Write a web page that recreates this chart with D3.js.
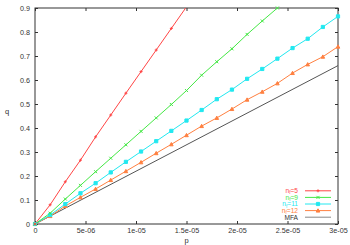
<!DOCTYPE html>
<html>
<head>
<meta charset="utf-8">
<script src="https://cdn.jsdelivr.net/npm/d3@7"></script>
<style>
  body { margin: 0; background: #fff; }
  text { font-family: "Liberation Sans", Arial, sans-serif; fill: #333; }
</style>
</head>
<body>
<svg id="chart"></svg>
<script>
// p step between markers
const pStep = 1.5e-6

// q values read at p = 0, 1.5e-6, 3e-6, ...
const qN5 = [0, 0.08, 0.176, 0.266, 0.363, 0.454, 0.545, 0.635, 0.725, 0.815, 0.905]
const qN9 = [0, 0.045, 0.104, 0.161, 0.218, 0.274, 0.33, 0.386, 0.442, 0.498, 0.556,
    0.62, 0.676, 0.73, 0.79, 0.846, 0.9, 0.957]
const qN11 = [0, 0.0375, 0.083, 0.128, 0.17, 0.215, 0.259, 0.302, 0.345, 0.388, 0.431,
    0.475, 0.52, 0.56, 0.605, 0.646, 0.689, 0.733, 0.772, 0.821, 0.865]
const qN12 = [0, 0.033, 0.075, 0.111, 0.146, 0.183, 0.22, 0.257, 0.295, 0.332, 0.37,
    0.408, 0.442, 0.479, 0.518, 0.551, 0.586, 0.629, 0.665, 0.697, 0.739]
const mfaP = [0, 3e-5]
const mfaQ = [0, 0.66]

const xTicks = [0, 5e-6, 1e-5, 1.5e-5, 2e-5, 2.5e-5, 3e-5]
const xTickLabels = ['0', '5e-06', '1e-05', '1.5e-05', '2e-05', '2.5e-05', '3e-05']
const yTicks = [0, 0.1, 0.2, 0.3, 0.4, 0.5, 0.6, 0.7, 0.8, 0.9]

const series = [
    {sub: '5', q: qN5, color: '#ff4545', marker: 'plus'},
    {sub: '9', q: qN9, color: '#45e845', marker: 'cross'},
    {sub: '11', q: qN11, color: '#22e8f0', marker: 'square'},
    {sub: '12', q: qN12, color: '#ff8040', marker: 'triangle'}
]

const width = 350, height = 245
const margin = {top: 8, right: 12, bottom: 21, left: 35}

const svg = d3.select('#chart')
    .attr('width', width)
    .attr('height', height)

const x = d3.scaleLinear().domain([0, 3e-5]).range([margin.left, width - margin.right])
const y = d3.scaleLinear().domain([0, 0.9]).range([height - margin.bottom, margin.top])

svg.append('clipPath').attr('id', 'clip')
    .append('rect')
    .attr('x', margin.left - 3).attr('y', margin.top - 3)
    .attr('width', x.range()[1] - margin.left + 6)
    .attr('height', y.range()[0] - margin.top + 6)

svg.append('clipPath').attr('id', 'clipLine')
    .append('rect')
    .attr('x', margin.left).attr('y', margin.top)
    .attr('width', x.range()[1] - margin.left)
    .attr('height', y.range()[0] - margin.top)

// axes with inward ticks, mirrored
const tickLen = 3
svg.append('g')
    .attr('transform', `translate(0,${y(0)})`)
    .call(d3.axisBottom(x).tickValues(xTicks).tickSizeInner(-tickLen).tickSizeOuter(0)
        .tickPadding(4).tickFormat((d, i) => xTickLabels[i]))
svg.append('g')
    .attr('transform', `translate(0,${y(0.9)})`)
    .call(d3.axisTop(x).tickValues(xTicks).tickSizeInner(-tickLen).tickSizeOuter(0).tickFormat(''))
svg.append('g')
    .attr('transform', `translate(${x(0)},0)`)
    .call(d3.axisLeft(y).tickValues(yTicks).tickSizeInner(-tickLen).tickSizeOuter(0)
        .tickPadding(5).tickFormat(d3.format('.1~f')))
svg.append('g')
    .attr('transform', `translate(${x(3e-5)},0)`)
    .call(d3.axisRight(y).tickValues(yTicks).tickSizeInner(-tickLen).tickSizeOuter(0).tickFormat(''))

svg.selectAll('.domain').remove()
svg.selectAll('.tick line').attr('stroke', '#333')
svg.selectAll('.tick text').attr('font-size', '7.2px').attr('fill', '#333')

svg.append('rect')
    .attr('x', x(0)).attr('y', y(0.9))
    .attr('width', x(3e-5) - x(0)).attr('height', y(0) - y(0.9))
    .attr('fill', 'none').attr('stroke', '#333').attr('stroke-width', 1)

// axis labels
svg.append('text').attr('x', 7).attr('y', 114).attr('font-size', '7.5px')
    .attr('text-anchor', 'middle').text('q')
svg.append('text').attr('x', (x(0) + x(3e-5)) / 2).attr('y', 243).attr('font-size', '7.5px')
    .attr('text-anchor', 'middle').text('p')

function markerPath(type, s) {
    if (type === 'plus') return `M${-s},0H${s}M0,${-s}V${s}`
    if (type === 'cross') return `M${-s},${-s}L${s},${s}M${-s},${s}L${s},${-s}`
    if (type === 'square') return `M${-s},${-s}H${s}V${s}H${-s}Z`
    return `M0,${-s - 0.3}L${s + 0.3},${s}H${-s - 0.3}Z`
}
const markerSize = m => m === 'square' ? 1.6 : 1.5

const lines = svg.append('g').attr('clip-path', 'url(#clipLine)')
const marks = svg.append('g').attr('clip-path', 'url(#clip)')
const line = d3.line().x(d => x(d[0])).y(d => y(d[1]))

lines.append('path')
    .datum(mfaP.map((p, i) => [p, mfaQ[i]]))
    .attr('d', line)
    .attr('fill', 'none').attr('stroke', '#555').attr('stroke-width', 1)

series.slice().reverse().forEach(s => {
    const pts = s.q.map((q, i) => [i * pStep, q])
    lines.append('path').datum(pts).attr('d', line)
        .attr('fill', 'none').attr('stroke', s.color).attr('stroke-width', 1)
    const filled = s.marker === 'square' || s.marker === 'triangle'
    marks.selectAll(null).data(pts.filter(d => d[1] <= 0.9)).join('path')
        .attr('transform', d => `translate(${x(d[0])},${y(d[1])})`)
        .attr('d', markerPath(s.marker, markerSize(s.marker)))
        .attr('fill', filled ? s.color : 'none')
        .attr('stroke', s.color).attr('stroke-width', 1)
})

// legend
const legend = svg.append('g')
const rowY = i => 190.8 + i * 6.6
const legendItems = series.concat([{label: 'MFA', color: '#888', marker: null}])
legendItems.forEach((s, i) => {
    const t = legend.append('text')
        .attr('x', 298).attr('y', rowY(i) + 2.3)
        .attr('text-anchor', 'end').attr('font-size', '6.6px')
        .style('fill', s.marker ? s.color : '#333')
    if (s.sub) {
        t.append('tspan').text('n')
        t.append('tspan').attr('font-size', '4.6px').attr('dy', 1.2).text('f')
        t.append('tspan').attr('dy', -1.2).text('=' + s.sub)
    } else {
        t.text(s.label)
    }
    legend.append('line')
        .attr('x1', 305).attr('x2', 331)
        .attr('y1', rowY(i)).attr('y2', rowY(i))
        .attr('stroke', s.color).attr('stroke-width', 1)
    if (s.marker) {
        legend.append('path')
            .attr('transform', `translate(318,${rowY(i)})`)
            .attr('d', markerPath(s.marker, markerSize(s.marker)))
            .attr('fill', (s.marker === 'square' || s.marker === 'triangle') ? s.color : 'none')
            .attr('stroke', s.color).attr('stroke-width', 1)
    }
})
</script>
</body>
</html>
